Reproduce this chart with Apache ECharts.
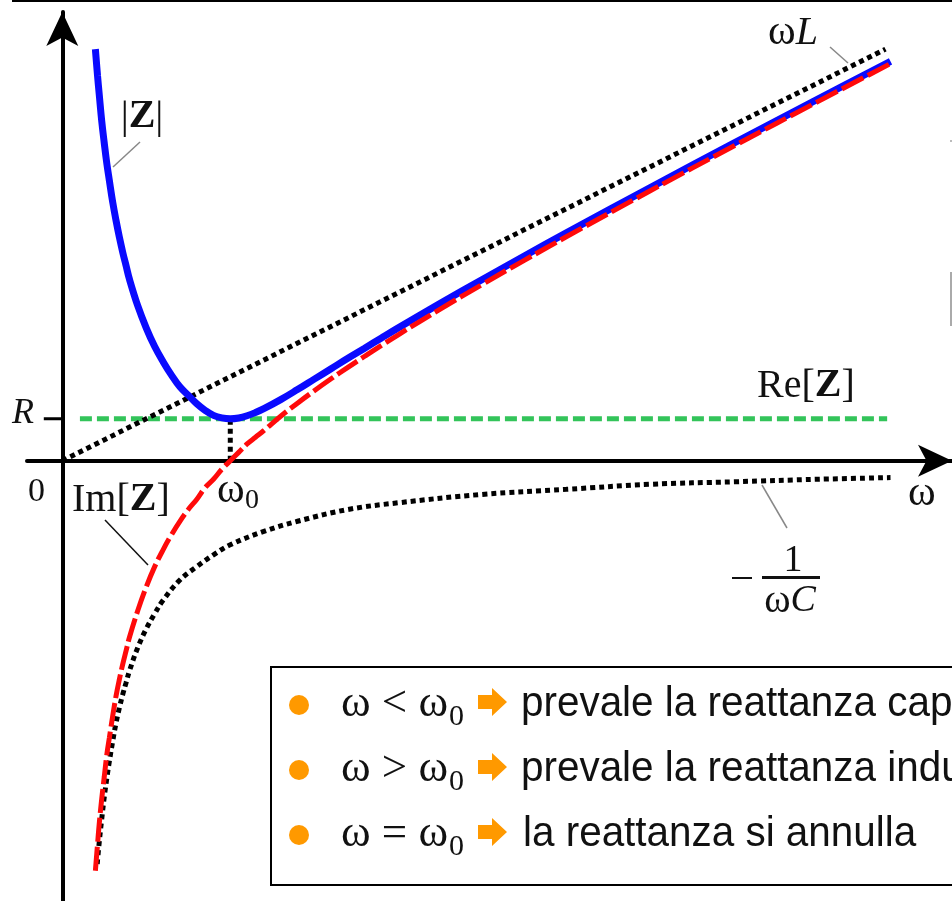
<!DOCTYPE html>
<html>
<head>
<meta charset="utf-8">
<script src="https://cdn.jsdelivr.net/npm/echarts@6/dist/echarts.min.js"></script>
<style>
html,body{margin:0;padding:0;background:#fff;}
#chart{width:952px;height:901px;}
</style>
</head>
<body>
<div id="chart"></div>
<script>
// ---- data (ω in units of ω0, values in units of the same scale) ----
const omegaZ = [0.197, 0.21, 0.22, 0.235, 0.25, 0.265, 0.28, 0.3, 0.32, 0.34, 0.36, 0.38, 0.4, 0.45, 0.5, 0.55, 0.6, 0.65, 0.7, 0.75, 0.8, 0.85, 0.9, 0.95, 1.0, 1.05, 1.1, 1.15, 1.2, 1.3, 1.4, 1.5, 1.6, 1.7, 1.8, 1.9, 2.0, 2.25, 2.5, 2.75, 3.0, 3.5, 4.0, 4.5, 4.93];
const absZ   = [2.45, 2.29, 2.18, 2.02, 1.89, 1.77, 1.67, 1.54, 1.43, 1.33, 1.24, 1.16, 1.08, 0.92, 0.79, 0.68, 0.59, 0.51, 0.44, 0.39, 0.34, 0.30, 0.27, 0.255, 0.25, 0.255, 0.268, 0.287, 0.31, 0.364, 0.424, 0.486, 0.548, 0.61, 0.67, 0.731, 0.791, 0.937, 1.079, 1.219, 1.356, 1.626, 1.892, 2.154, 2.377];
const imZ    = [-2.44, -2.28, -2.16, -2.01, -1.88, -1.75, -1.65, -1.52, -1.40, -1.30, -1.21, -1.13, -1.05, -0.89, -0.75, -0.63, -0.53, -0.44, -0.36, -0.29, -0.23, -0.16, -0.11, -0.05, 0.0, 0.05, 0.10, 0.14, 0.18, 0.265, 0.343, 0.417, 0.488, 0.556, 0.622, 0.687, 0.75, 0.903, 1.05, 1.193, 1.333, 1.607, 1.875, 2.139, 2.364];

const omegaC  = [0.208, 0.22, 0.235, 0.25, 0.265, 0.28, 0.3, 0.32, 0.34, 0.36, 0.38, 0.4, 0.45, 0.5, 0.55, 0.6, 0.7, 0.8, 0.9, 1.0, 1.2, 1.4, 1.7, 2.0, 2.5, 3.0, 3.5, 4.0, 4.5, 4.93];
const negInvC = [-2.40, -2.27, -2.13, -2.00, -1.89, -1.79, -1.67, -1.56, -1.47, -1.39, -1.32, -1.25, -1.11, -1.00, -0.91, -0.83, -0.71, -0.63, -0.56, -0.50, -0.42, -0.36, -0.29, -0.25, -0.20, -0.17, -0.14, -0.125, -0.11, -0.10];

const omegaL = [0, 4.9];
const wL     = [0, 2.45];

const omegaR = [0.105, 4.91];
const reZ    = [0.25, 0.25];

const omegaRes = [1.0, 1.0];
const resLine  = [0.0, 0.25];

const omegaTickR = [-0.11, 0];
const tickR      = [0.25, 0.25];

const bulletLines = [
  { rel: 'ω < ω', text: 'prevale la reattanza capacitiva' },
  { rel: 'ω > ω', text: 'prevale la reattanza induttiva' },
  { rel: 'ω = ω', text: 'la reattanza si annulla' }
];

function pairs(xs, ys) { return xs.map((x, i) => [x, ys[i]]); }

const SERIF = '"Liberation Serif","DejaVu Serif",serif';
const SANS = '"Liberation Sans",Arial,sans-serif';

const chart = echarts.init(document.getElementById('chart'), null, { renderer: 'canvas' });

function txt(x, y, text, size, opts) {
  opts = opts || {};
  return {
    type: 'text', x: x, y: y, z: 100,
    scaleX: opts.scaleX || 1,
    style: {
      text: text,
      font: (opts.style || '') + ' ' + (opts.weight || 'normal') + ' ' + size + 'px ' + (opts.family || SERIF),
      fill: opts.color || '#111',
      align: opts.align || 'left',
      verticalAlign: 'middle',
      rich: opts.rich
    }
  };
}
function seg(x1, y1, x2, y2, color, w) {
  return { type: 'line', z: 100, shape: { x1: x1, y1: y1, x2: x2, y2: y2 }, style: { stroke: color, lineWidth: w } };
}

const elements = [
  { type: 'rect', z: 100, shape: { x: 12, y: 0, width: 940, height: 2 }, style: { fill: '#000' } },
  { type: 'rect', z: 100, shape: { x: 950, y: 272, width: 2, height: 54 }, style: { fill: '#aaa' } },
  { type: 'rect', z: 100, shape: { x: 950, y: 140, width: 2, height: 2 }, style: { fill: '#bbb' } },
  // labels
  txt(12, 414, 'R', 36, { style: 'italic' }),
  txt(28, 492, '0', 34),
  txt(72, 500, 'Im[{b|Z}]', 40, { rich: { b: { fontFamily: SERIF, fontWeight: 'bold', fontSize: 40, fill: '#111' } } }),
  txt(217, 491, 'ω', 42),
  txt(245, 501, '0', 28),
  txt(142, 117, '|{b|Z}|', 40, { align: 'center', rich: { b: { fontFamily: SERIF, fontWeight: 'bold', fontSize: 40, fill: '#111' } } }),
  txt(768, 33, 'ω{i|L}', 42, { rich: { i: { fontFamily: SERIF, fontStyle: 'italic', fontSize: 40, fill: '#111' } } }),
  txt(757, 386, 'Re[{b|Z}]', 40, { rich: { b: { fontFamily: SERIF, fontWeight: 'bold', fontSize: 40, fill: '#111' } } }),
  txt(908, 494, 'ω', 42),
  txt(793, 561, '1', 38, { align: 'center' }),
  { type: 'rect', z: 100, shape: { x: 762, y: 576, width: 58, height: 3 }, style: { fill: '#111' } },
  txt(790, 601, 'ω{i|C}', 40, { align: 'center', rich: { i: { fontFamily: SERIF, fontStyle: 'italic', fontSize: 38, fill: '#111' } } }),
  { type: 'rect', z: 100, shape: { x: 732, y: 577, width: 20, height: 2 }, style: { fill: '#111' } },
  // leader lines
  seg(140, 142, 113, 167, '#888', 1.5),
  seg(105, 520, 148, 565, '#111', 1.5),
  seg(830, 47, 848, 63, '#888', 1.5),
  seg(762, 485, 787, 528, '#888', 1.5),
  // box
  { type: 'rect', z: 90, shape: { x: 271, y: 667, width: 720, height: 218 }, style: { fill: '#fff', stroke: '#000', lineWidth: 2 } }
];

bulletLines.forEach(function (b, i) {
  const base = 717 + i * 65;
  elements.push({ type: 'circle', z: 100, shape: { cx: 299, cy: base - 12, r: 10 }, style: { fill: '#ff9900' } });
  elements.push(txt(341, base - 13, b.rel, 45));
  elements.push(txt(449, base, '0', 30));
  const ay = base - 15;
  elements.push({ type: 'polygon', z: 100, shape: { points: [[478, ay - 7], [492, ay - 7], [492, ay - 14], [507, ay], [492, ay + 14], [492, ay + 7], [478, ay + 7]] }, style: { fill: '#ff9900' } });
  elements.push(txt(i === 2 ? 523 : 521, base - 13, b.text, 43, { family: SANS, scaleX: 0.94 }));
});

const option = {
  animation: false,
  backgroundColor: '#fff',
  grid: { left: 27, top: 12, width: 925, height: 889, containLabel: false },
  xAxis: {
    type: 'value', min: -0.21, max: 5.296,
    axisLine: { show: true, onZero: true, symbol: ['none', 'arrow'], symbolSize: [24, 34], lineStyle: { color: '#000', width: 4 } },
    axisTick: { show: false }, axisLabel: { show: false }, splitLine: { show: false }
  },
  yAxis: {
    type: 'value', min: -2.62, max: 2.671,
    axisLine: { show: true, onZero: true, symbol: ['none', 'arrow'], symbolSize: [24, 34], lineStyle: { color: '#000', width: 4 } },
    axisTick: { show: false }, axisLabel: { show: false }, splitLine: { show: false }
  },
  series: [
    { name: 'Re[Z]', type: 'line', z: 2, symbol: 'none', data: pairs(omegaR, reZ),
      lineStyle: { color: '#33c45a', width: 5, type: [12, 5] } },
    { name: 'R tick', type: 'line', z: 2, symbol: 'none', data: pairs(omegaTickR, tickR),
      lineStyle: { color: '#000', width: 3 } },
    { name: 'ωL', type: 'line', z: 3, symbol: 'none', data: pairs(omegaL, wL),
      lineStyle: { color: '#000', width: 5, type: [5, 4] } },
    { name: '-1/ωC', type: 'line', z: 3, symbol: 'none', smooth: 0.4, data: pairs(omegaC, negInvC),
      lineStyle: { color: '#000', width: 5, type: [5, 4] } },
    { name: 'ω0', type: 'line', z: 3, symbol: 'none', data: pairs(omegaRes, resLine),
      lineStyle: { color: '#000', width: 5, type: [5, 4] } },
    { name: '|Z|', type: 'line', z: 4, symbol: 'none', smooth: 0.4, data: pairs(omegaZ, absZ),
      lineStyle: { color: '#0a0aff', width: 7 } },
    { name: 'Im[Z]', type: 'line', z: 5, symbol: 'none', smooth: 0.4, data: pairs(omegaZ, imZ),
      lineStyle: { color: '#ff0a0a', width: 5, type: [24, 5] } }
  ],
  graphic: { elements: elements }
};
chart.setOption(option);
</script>
</body>
</html>
